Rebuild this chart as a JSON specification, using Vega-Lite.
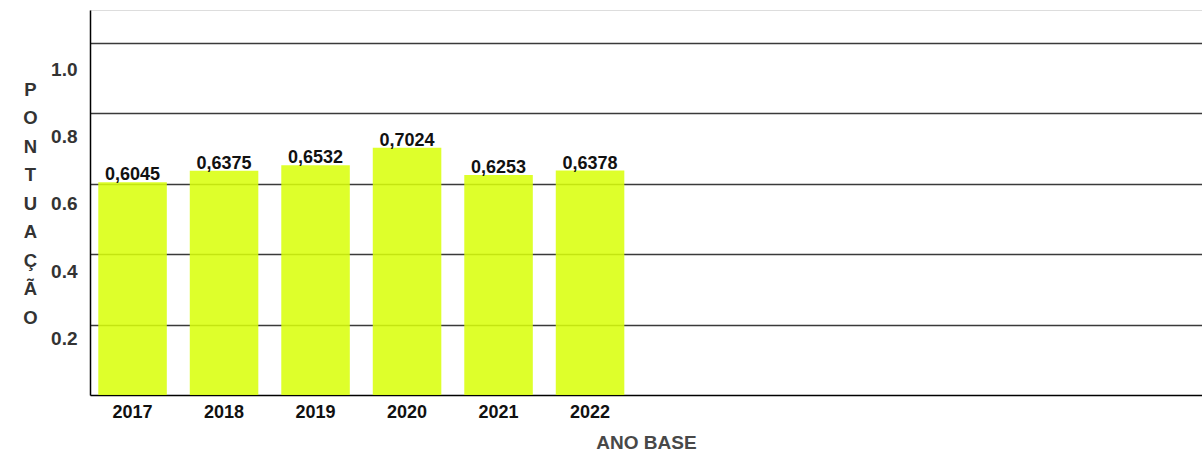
{
  "$schema": "https://vega.github.io/schema/vega-lite/v6.json",
  "width": 1112,
  "height": 385,
  "autosize": "none",
  "padding": {"left": 90, "top": 10, "right": 0, "bottom": 58},
  "background": "white",
  "data": {
    "values": [
      {"ano": "2017", "pontuacao": 0.6045},
      {"ano": "2018", "pontuacao": 0.6375},
      {"ano": "2019", "pontuacao": 0.6532},
      {"ano": "2020", "pontuacao": 0.7024},
      {"ano": "2021", "pontuacao": 0.6253},
      {"ano": "2022", "pontuacao": 0.6378}
    ]
  },
  "transform": [
    {"calculate": "replace(format(datum.pontuacao, '.4f'), '.', ',')", "as": "rotulo"}
  ],
  "encoding": {
    "x": {
      "field": "ano",
      "type": "nominal",
      "sort": null,
      "scale": {
        "domain": ["2017", "2018", "2019", "2020", "2021", "2022", "p1", "p2", "p3", "p4", "p5", "p6"],
        "paddingInner": 0.251,
        "paddingOuter": 0.202,
        "align": 0.224
      },
      "axis": {
        "labelExpr": "test(/^p/, datum.value) ? '' : datum.label",
        "ticks": false,
        "tickSize": 0,
        "grid": false,
        "domainColor": "#000000",
        "domainWidth": 1.5,
        "labelAngle": 0,
        "labelFont": "Liberation Sans",
        "labelFontSize": 18,
        "labelFontWeight": "bold",
        "labelColor": "#111111",
        "labelPadding": 8,
        "title": "ANO BASE",
        "titleFont": "Liberation Sans",
        "titleFontSize": 19,
        "titleFontWeight": "bold",
        "titleColor": "#484848",
        "titlePadding": 12
      }
    },
    "y": {
      "field": "pontuacao",
      "type": "quantitative",
      "scale": {"domain": [0, 1.094], "nice": false, "zero": true},
      "axis": {
        "values": [0.2, 0.4, 0.6, 0.8, 1.0],
        "format": ".1f",
        "grid": true,
        "gridColor": "#3a3a3a",
        "gridWidth": 1.5,
        "domainColor": "#000000",
        "domainWidth": 1.5,
        "ticks": false,
        "tickSize": 0,
        "labelPadding": 13,
        "labelFont": "Liberation Sans",
        "labelFontSize": 19,
        "labelFontWeight": "bold",
        "labelColor": "#333333",
        "labelBaseline": "middle",
        "labelOffset": {
          "condition": [
            {"test": "datum.value > 0.9", "value": 26},
            {"test": "datum.value > 0.7", "value": 23},
            {"test": "datum.value > 0.5", "value": 20},
            {"test": "datum.value > 0.3", "value": 17}
          ],
          "value": 14
        },
        "title": ["P", "O", "N", "T", "U", "A", "Ç", "Ã", "O"],
        "titleAngle": 0,
        "titleX": -60,
        "titleY": 79,
        "titleAlign": "center",
        "titleBaseline": "middle",
        "titleLineHeight": 28.5,
        "titleFont": "Liberation Sans",
        "titleFontSize": 18.5,
        "titleFontWeight": "bold",
        "titleColor": "#333333"
      }
    }
  },
  "layer": [
    {"mark": {"type": "bar", "color": "#d9ff0c", "opacity": 0.87}},
    {
      "mark": {
        "type": "text",
        "baseline": "alphabetic",
        "dy": -2,
        "font": "Liberation Sans",
        "fontSize": 18,
        "fontWeight": "bold",
        "color": "#111111"
      },
      "encoding": {"text": {"field": "rotulo"}}
    }
  ],
  "config": {"view": {"stroke": "#dddddd"}}
}
